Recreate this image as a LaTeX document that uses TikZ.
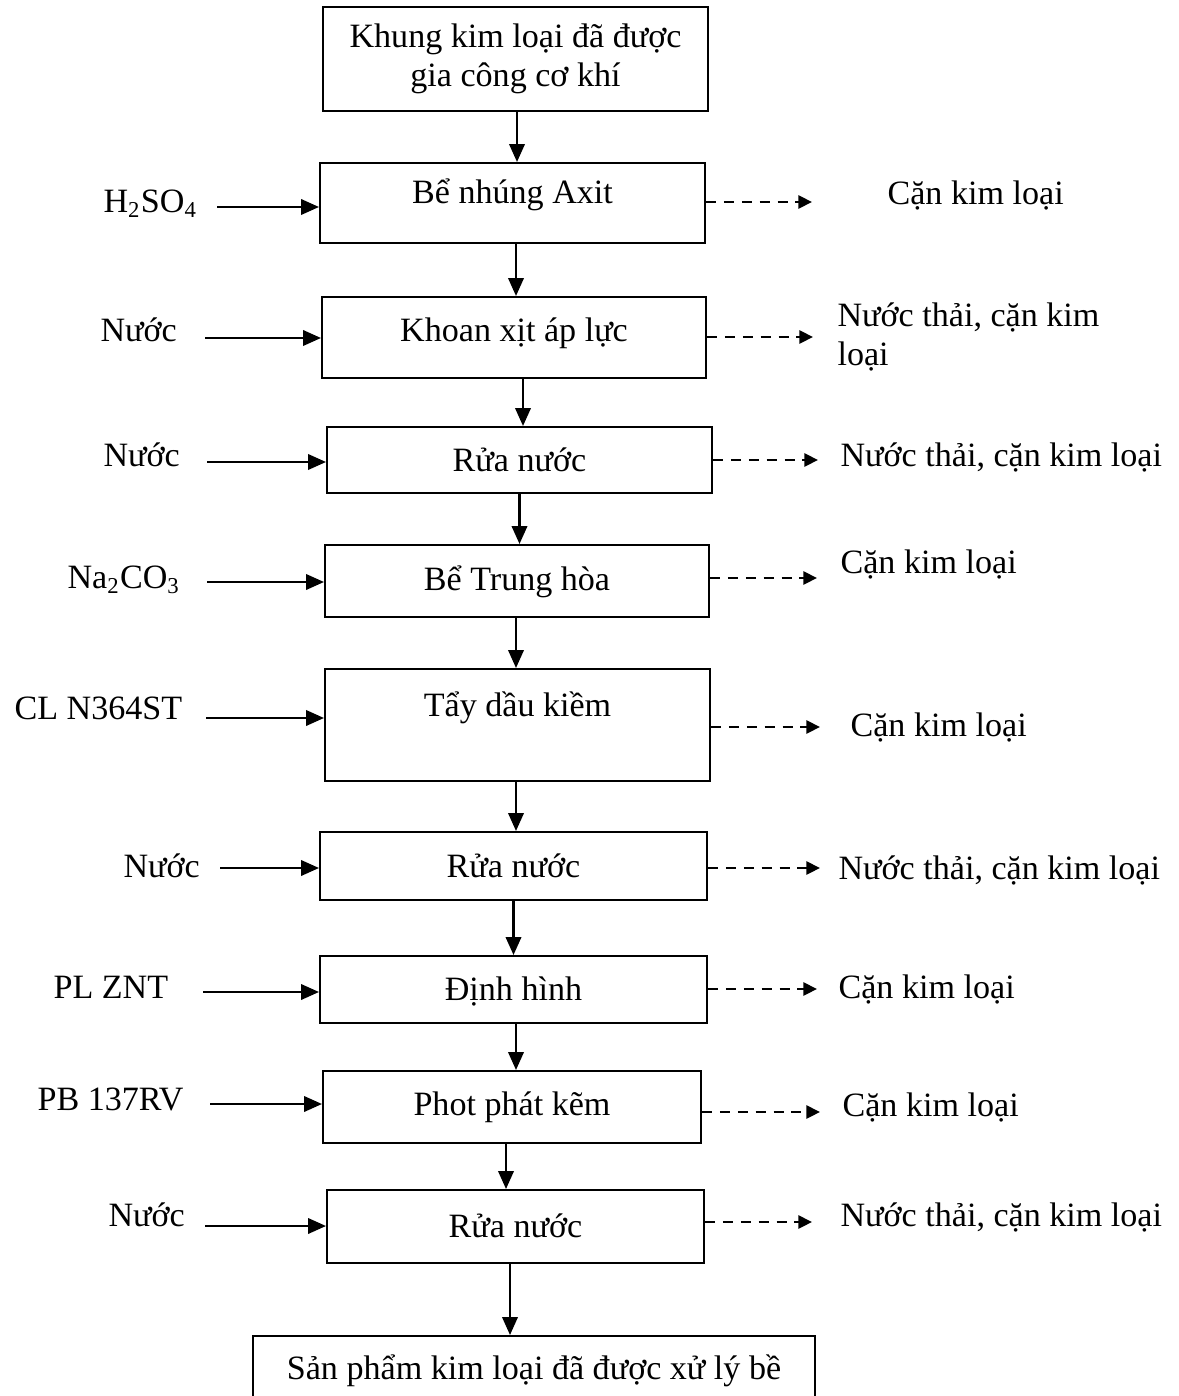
\documentclass[tikz,border=0pt]{standalone}
\usepackage{fontspec}
\setmainfont{Liberation Serif}
\usetikzlibrary{arrows.meta}
\newcommand{\px}{0.352pt}
\tikzset{
  every node/.style={font=\fontsize{12}{14}\selectfont},
  stepbox/.style={draw, line width=0.7pt, inner sep=0pt, align=center, text height=10pt, text depth=2pt},
  twobox/.style={draw, line width=0.7pt, inner sep=0pt, align=center, font=\fontsize{12}{13.8}\selectfont},
  inlabel/.style={anchor=west, inner sep=0pt, text height=10pt, text depth=2pt},
  outlabel/.style={anchor=west, inner sep=0pt, align=left},
  feed/.style={-{Triangle[length=6.3pt,width=5.4pt]}, line width=0.85pt},
  waste/.style={-{Triangle[length=4.8pt,width=4.6pt]}, line width=0.85pt, dash pattern=on 3.5pt off 2.8pt},
}
\begin{document}
\begin{tikzpicture}[x=\px, y=-\px]
\useasboundingbox (0,0) rectangle (1179,1396);
% process steps
\node[twobox, minimum width=385*\px, minimum height=104*\px] (b1) at (515.5,59) {Khung kim loại đã được\\gia công cơ khí};
\node[stepbox, minimum width=385*\px, minimum height=80*\px, text depth=9.3pt] (b2) at (512.5,203) {Bể nhúng Axit};
\node[stepbox, minimum width=384*\px, minimum height=81*\px, text depth=7pt] (b3) at (514,337.5) {Khoan xịt áp lực};
\node[stepbox, minimum width=385*\px, minimum height=66*\px] (b4) at (519.5,460) {Rửa nước};
\node[stepbox, minimum width=384*\px, minimum height=72*\px, text depth=3pt] (b5) at (517,581) {Bể Trung hòa};
\node[stepbox, minimum width=385*\px, minimum height=112*\px, text depth=16pt] (b6) at (517.5,725) {Tẩy dầu kiềm};
\node[stepbox, minimum width=387*\px, minimum height=68*\px] (b7) at (513.5,866) {Rửa nước};
\node[stepbox, minimum width=387*\px, minimum height=67*\px] (b8) at (513.5,989.5) {Định hình};
\node[stepbox, minimum width=378*\px, minimum height=72*\px, text depth=4pt] (b9) at (512,1107) {Phot phát kẽm};
\node[stepbox, minimum width=377*\px, minimum height=73*\px] (b10) at (515.5,1226.5) {Rửa nước};
\node[twobox, minimum width=562*\px, minimum height=108*\px] (b11) at (534,1390) {Sản phẩm kim loại đã được xử lý bề\\mặt};
% main flow
\draw[feed] ([xshift=1.5*\px]b1.south) -- ([xshift=1.5*\px]b1.south |- b2.north);
\draw[feed] ([xshift=3.5*\px]b2.south) -- ([xshift=3.5*\px]b2.south |- b3.north);
\draw[feed] ([xshift=9*\px]b3.south) -- ([xshift=9*\px]b3.south |- b4.north);
\draw[feed] (b4.south) -- (b4.south |- b5.north);
\draw[feed] ([xshift=-1*\px]b5.south) -- ([xshift=-1*\px]b5.south |- b6.north);
\draw[feed] ([xshift=-1.5*\px]b6.south) -- ([xshift=-1.5*\px]b6.south |- b7.north);
\draw[feed] (b7.south) -- (b7.south |- b8.north);
\draw[feed] ([xshift=2.5*\px]b8.south) -- ([xshift=2.5*\px]b8.south |- b9.north);
\draw[feed] ([xshift=-6*\px]b9.south) -- ([xshift=-6*\px]b9.south |- b10.north);
\draw[feed] ([xshift=-5.5*\px]b10.south) -- ([xshift=-5.5*\px]b10.south |- b11.north);
% inputs
\node[inlabel] (i2) at (103,201) {H\textsubscript{2}SO\textsubscript{4}};
\node[inlabel] (i3) at (100,330) {Nước};
\node[inlabel] (i4) at (103,455) {Nước};
\node[inlabel] (i5) at (67,577) {Na\textsubscript{2}CO\textsubscript{3}};
\node[inlabel] (i6) at (14,708) {CL N364ST};
\node[inlabel] (i7) at (123,866) {Nước};
\node[inlabel] (i8) at (53,987) {PL ZNT};
\node[inlabel] (i9) at (37,1099) {PB 137RV};
\node[inlabel] (i10) at (108,1215) {Nước};
\coordinate (s2) at (217,207);
\coordinate (s3) at (205,338);
\coordinate (s4) at (207,462);
\coordinate (s5) at (207,582);
\coordinate (s6) at (206,718);
\coordinate (s7) at (220,868);
\coordinate (s8) at (203,992);
\coordinate (s9) at (210,1104);
\coordinate (s10) at (205,1226);
\foreach \k in {2,...,10}
  \draw[feed] (s\k) -- (s\k -| b\k.west);
% outputs
\coordinate (e2) at (812,202);
\coordinate (e3) at (813,337);
\coordinate (e4) at (818,460);
\coordinate (e5) at (817,578);
\coordinate (e6) at (820,727);
\coordinate (e7) at (820,868);
\coordinate (e8) at (817,989);
\coordinate (e9) at (820,1112);
\coordinate (e10) at (812,1222);
\foreach \k in {2,...,10}
  \draw[waste] (e\k -| b\k.east) -- (e\k);
\node[outlabel] (o2) at (887,195) {Cặn kim loại};
\node[outlabel] (o3) at (837,337) {Nước thải, cặn kim\\loại};
\node[outlabel] (o4) at (840,457) {Nước thải, cặn kim loại};
\node[outlabel] (o5) at (840,564) {Cặn kim loại};
\node[outlabel] (o6) at (850,727) {Cặn kim loại};
\node[outlabel] (o7) at (838,870) {Nước thải, cặn kim loại};
\node[outlabel] (o8) at (838,989) {Cặn kim loại};
\node[outlabel] (o9) at (842,1107) {Cặn kim loại};
\node[outlabel] (o10) at (840,1217) {Nước thải, cặn kim loại};
\end{tikzpicture}
\end{document}
